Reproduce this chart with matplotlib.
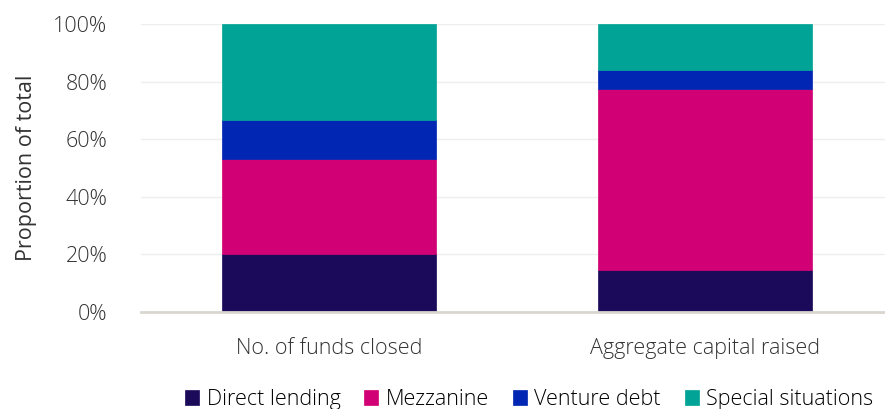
import numpy as np
import matplotlib.pyplot as plt

categories = ['No. of funds closed', 'Aggregate capital raised']
series = ['Direct lending', 'Mezzanine', 'Venture debt', 'Special situations']
direct_lending = [20.0, 14.5]
mezzanine = [33.3, 62.8]
venture_debt = [13.4, 6.6]
special_situations = [33.3, 16.1]
colors = ['#1b0a5a', '#d10074', '#0026b3', '#00a395']

plt.rcParams['font.family'] = ['Open Sans', 'DejaVu Sans']
plt.rcParams['font.weight'] = 'light'

fig = plt.figure(figsize=(8.85, 4.09), dpi=100)
ax = fig.add_axes([0.159, 0.237, 0.841, 0.704])

x = np.arange(len(categories))
bottom = np.zeros(len(categories))
for name, vals, c in zip(series, [direct_lending, mezzanine, venture_debt, special_situations], colors):
    ax.bar(x, vals, bottom=bottom, width=0.57, color=c, label=name, zorder=3,
           edgecolor=c, linewidth=0.5)
    bottom += np.array(vals)

fs = 15.5
ax.set_xlim(-0.5, 1.478)
ax.set_ylim(0, 100)
ax.set_yticks(np.arange(0, 101, 20))
ax.set_yticklabels([f'{v}%' for v in range(0, 101, 20)], fontsize=fs, color='#333333')
ax.set_xticks(x)
ax.set_xticklabels(categories, fontsize=fs, color='#333333')
ax.tick_params(axis='both', length=0)
ax.tick_params(axis='y', pad=24)
ax.tick_params(axis='x', pad=19)
ax.grid(axis='y', color='#eeeeee', linewidth=1, zorder=0)
for s in ['top', 'right', 'left']:
    ax.spines[s].set_visible(False)
ax.spines['bottom'].set_color('#d9d6d0')
ax.spines['bottom'].set_linewidth(2)
ax.spines['bottom'].set_zorder(4)
ax.set_ylabel('Proportion of total', fontsize=fs, color='#333333', labelpad=12)

fig.legend(loc='lower center', bbox_to_anchor=(0.598, -0.05), ncol=4, frameon=False,
           fontsize=fs, handlelength=0.65, handleheight=0.65, handletextpad=0.35,
           columnspacing=1.1)

fig.savefig('out.png', dpi=100)
